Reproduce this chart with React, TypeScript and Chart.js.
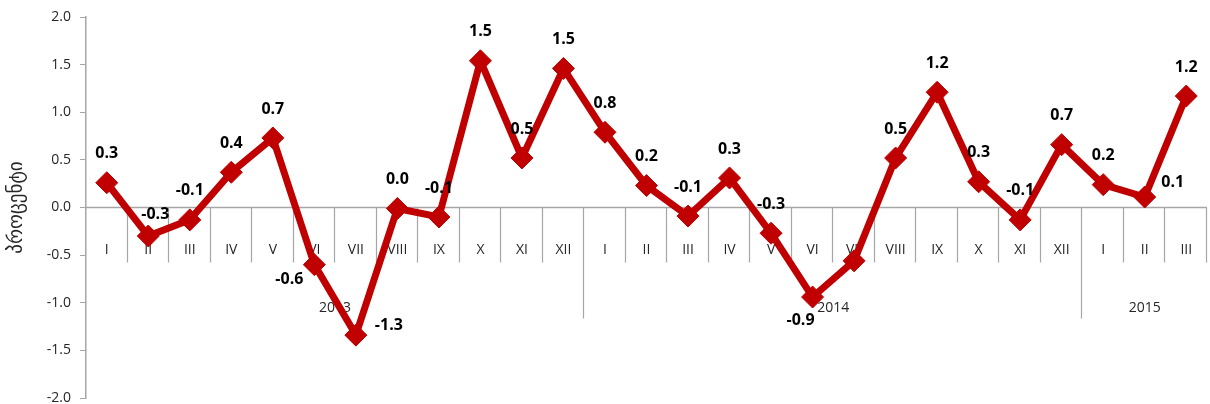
import React, { useEffect, useRef } from "react";
import { Chart, registerables } from "chart.js";

Chart.register(...registerables);

const years = ["2013", "2014", "2015"];
const monthNames = ["I", "II", "III", "IV", "V", "VI", "VII", "VIII", "IX", "X", "XI", "XII"];
const monthsPerYear = [12, 12, 3];

const values2013 = [0.26, -0.3, -0.13, 0.37, 0.73, -0.6, -1.34, -0.01, -0.1, 1.54, 0.52, 1.46];
const values2014 = [0.79, 0.23, -0.09, 0.31, -0.27, -0.94, -0.56, 0.52, 1.21, 0.27, -0.13, 0.66];
const values2015 = [0.24, 0.11, 1.17];

const labelPlacement2013 = ["above", "aboveRight", "above", "above", "above", "belowLeft", "right", "above", "above", "above", "above", "above"];
const labelPlacement2014 = ["above", "above", "above", "above", "above", "belowLeftLow", "none", "above", "above", "above", "above", "above"];
const labelPlacement2015 = ["above", "right", "above"];

const yTitle = "პროცენტი";

const values = [...values2013, ...values2014, ...values2015];
const placements = [...labelPlacement2013, ...labelPlacement2014, ...labelPlacement2015];
const categories: string[] = [];
const monthLabels: string[] = [];
years.forEach((y, yi) => {
  for (let m = 0; m < monthsPerYear[yi]; m++) {
    categories.push(`${y} ${monthNames[m]}`);
    monthLabels.push(monthNames[m]);
  }
});

const RED = "#C00000";
const AXIS = "#A6A6A6";
const FONT = "'Open Sans', 'DejaVu Sans', sans-serif";

const fmt = (v: number) => {
  const r = Math.round(v * 10) / 10;
  return (r === 0 ? 0 : r).toFixed(1);
};

const axisPlugin = {
  id: "monthAxis",
  beforeDatasetsDraw(chart: any) {
    const { ctx, chartArea } = chart;
    const xs = chart.scales.x;
    const ys = chart.scales.y;
    const y0 = ys.getPixelForValue(0);
    const n = categories.length;
    const w = (chartArea.right - chartArea.left) / n;
    ctx.save();
    ctx.strokeStyle = AXIS;
    ctx.lineWidth = 1.5;
    ctx.beginPath();
    ctx.moveTo(chartArea.left, y0);
    ctx.lineTo(chartArea.right, y0);
    ctx.stroke();
    const yearStarts: number[] = [];
    let acc = 0;
    monthsPerYear.forEach((c) => {
      yearStarts.push(acc);
      acc += c;
    });
    ctx.lineWidth = 1.2;
    for (let i = 1; i <= n; i++) {
      const x = Math.round(xs.getPixelForValue(Math.min(i, n - 1)) + (i === n ? w / 2 : -w / 2)) - 0.5;
      const isYear = yearStarts.includes(i);
      const len = isYear ? 111 : 55;
      ctx.beginPath();
      ctx.moveTo(x, y0);
      ctx.lineTo(x, y0 + len);
      ctx.stroke();
    }
    ctx.fillStyle = "#262626";
    ctx.font = `14px ${FONT}`;
    ctx.textAlign = "center";
    ctx.textBaseline = "middle";
    for (let i = 0; i < n; i++) {
      ctx.fillText(monthLabels[i], xs.getPixelForValue(i), y0 + 43);
    }
    years.forEach((yr, yi) => {
      const s = yearStarts[yi];
      const e = s + monthsPerYear[yi] - 1;
      const cx = (xs.getPixelForValue(s) + xs.getPixelForValue(e)) / 2;
      ctx.fillText(yr, cx, y0 + 101);
    });
    ctx.restore();
  },
  afterDatasetsDraw(chart: any) {
    const { ctx } = chart;
    const meta = chart.getDatasetMeta(0);
    ctx.save();
    ctx.fillStyle = "#000";
    ctx.font = `bold 16px ${FONT}`;
    ctx.textAlign = "center";
    ctx.textBaseline = "middle";
    meta.data.forEach((pt: any, i: number) => {
      const p = placements[i];
      if (p === "none") return;
      let dx = 0;
      let dy = -29;
      if (p === "aboveRight") { dx = 7; dy = -22; }
      if (p === "right") { dx = 28; dy = -15; }
      if (p === "belowLeft") { dx = -25; dy = 15; }
      if (p === "belowLeftLow") { dx = -12; dy = 23; }
      if (i === 6) { dx = 33; dy = -10; }
      ctx.fillText(fmt(values[i]), pt.x + dx, pt.y + dy);
    });
    ctx.restore();
  },
};

export default function App() {
  const ref = useRef<HTMLCanvasElement | null>(null);
  useEffect(() => {
    if (!ref.current) return;
    const chart = new Chart(ref.current, {
      type: "line",
      data: {
        labels: categories,
        datasets: [
          {
            data: values,
            borderColor: RED,
            backgroundColor: RED,
            borderWidth: 7,
            pointStyle: "rectRot",
            pointRadius: 11,
            pointHoverRadius: 11,
            pointBackgroundColor: RED,
            pointBorderColor: RED,
            pointBorderWidth: 1,
            tension: 0,
            clip: false,
          },
        ],
      },
      options: {
        animation: false,
        responsive: false,
        devicePixelRatio: 1,
        layout: { autoPadding: false, padding: { top: 17, bottom: 6, right: 3, left: 0 } },
        plugins: { legend: { display: false }, tooltip: { enabled: false } },
        scales: {
          x: { type: "category", offset: true, display: false },
          y: {
            min: -2,
            max: 2,
            ticks: {
              stepSize: 0.5,
              color: "#262626",
              font: { family: FONT, size: 14 },
              padding: 9,
              callback: (v: any) => Number(v).toFixed(1),
            },
            grid: { drawOnChartArea: false, drawTicks: true, tickLength: 6, color: AXIS },
            border: { display: true, color: AXIS, width: 1.5 },
            title: {
              display: true,
              text: yTitle,
              color: "#262626",
              font: { family: "'DejaVu Sans', sans-serif", size: 19 },
              padding: { top: 6, bottom: 0 },
            },
            afterFit: (s: any) => {
              s.width = 86;
              s.paddingTop = 0;
              s.paddingBottom = 0;
            },
          },
        },
      },
      plugins: [axisPlugin],
    });
    return () => chart.destroy();
  }, []);
  return (
    <div style={{ position: "absolute", left: 0, top: 0, width: 1210, height: 404, background: "#fff" }}>
      <canvas ref={ref} width={1210} height={404} style={{ display: "block" }} />
    </div>
  );
}
